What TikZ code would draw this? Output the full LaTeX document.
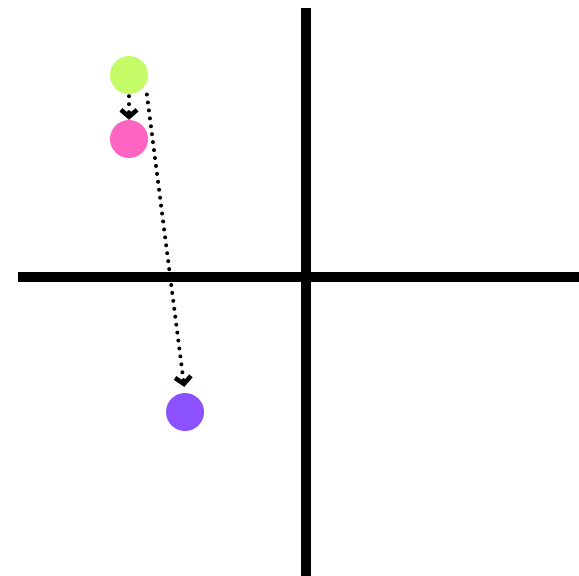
\documentclass[tikz,border=0pt]{standalone}
\usepackage{tikz}
\usetikzlibrary{arrows.meta, positioning}

\definecolor{limegreen}{HTML}{C5FB66}
\definecolor{hotpink}{HTML}{FF66C4}
\definecolor{violet}{HTML}{8C52FF}

\begin{document}
\begin{tikzpicture}[x=1pt, y=-1pt,
    point/.style={circle, minimum size=38pt, inner sep=0pt, draw=none},
    axis/.style={line width=10pt},
    link/.style={line width=4pt, line cap=round, dash pattern=on 0pt off 8pt,
        -{Straight Barb[length=7pt, width=16pt, line width=4.5pt]}}]
    \useasboundingbox (0,0) rectangle (579,576);

    % axes
    \coordinate (ytop) at (306,8);
    \coordinate (ybot) at (306,576);
    \coordinate (xleft) at (18,277);
    \coordinate (xright) at (579,277);
    \draw[axis] (ytop) -- (ybot);
    \draw[axis] (xleft) -- (xright);

    % points
    \node[point, fill=limegreen] (start) at (129,75) {};
    \node[point, fill=hotpink] (near) at (129,139) {};
    \node[point, fill=violet] (far) at (185,412) {};

    % moves
    \draw[link, shorten <=2pt, shorten >=0pt] (start) -- (near);
    \draw[link, shorten <=10pt, shorten >=6pt] (start.-30) -- (far.north);
\end{tikzpicture}
\end{document}
